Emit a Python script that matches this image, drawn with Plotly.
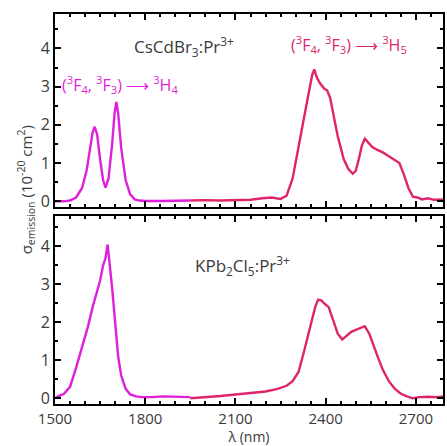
import plotly.graph_objects as go
from plotly.subplots import make_subplots

# Emission cross-section spectra, CsCdBr3:Pr3+ (top) and KPb2Cl5:Pr3+ (bottom)
cs_band1_wl = [1500, 1530, 1550, 1570, 1590, 1605, 1615, 1625, 1632, 1640, 1650, 1660, 1668,
               1678, 1690, 1698, 1704, 1710, 1720, 1735, 1750, 1765, 1780, 1800, 1850, 1900, 1950]
cs_band1_val = [0.0, 0.0, 0.02, 0.1, 0.35, 0.8, 1.3, 1.8, 1.95, 1.75, 1.1, 0.55, 0.36,
                0.6, 1.5, 2.3, 2.6, 2.3, 1.4, 0.55, 0.18, 0.05, 0.02, 0.01, 0.01, 0.01, 0.02]

cs_band2_wl = [1950, 2000, 2050, 2100, 2150, 2190, 2220, 2250, 2270, 2290, 2310, 2330, 2345,
               2355, 2362, 2370, 2380, 2395, 2405, 2415, 2425, 2440, 2460, 2475, 2490, 2500,
               2510, 2520, 2530, 2540, 2555, 2570, 2590, 2610, 2630, 2645, 2660, 2675, 2690,
               2705, 2720, 2740, 2760, 2790]
cs_band2_val = [0.02, 0.03, 0.02, 0.03, 0.04, 0.08, 0.1, 0.06, 0.15, 0.6, 1.4, 2.3, 2.9,
                3.3, 3.45, 3.25, 3.1, 2.95, 2.9, 2.7, 2.3, 1.7, 1.1, 0.85, 0.72, 0.8,
                1.1, 1.45, 1.64, 1.55, 1.42, 1.35, 1.28, 1.18, 1.08, 1.0, 0.7, 0.35, 0.12,
                0.1, 0.05, 0.08, 0.04, 0.05]

kp_band1_wl = [1500, 1510, 1530, 1550, 1570, 1590, 1610, 1625, 1640, 1650, 1660, 1668, 1675,
               1680, 1690, 1700, 1710, 1720, 1735, 1750, 1770, 1790, 1820, 1860, 1900, 1950]
kp_band1_val = [0.0, 0.05, 0.12, 0.3, 0.8, 1.35, 1.9, 2.4, 2.8, 3.1, 3.5, 3.7, 4.05,
                3.7, 2.9, 2.0, 1.1, 0.6, 0.25, 0.1, 0.05, 0.03, 0.03, 0.05, 0.04, 0.03]

kp_band2_wl = [1950, 2000, 2050, 2100, 2150, 2200, 2240, 2270, 2290, 2310, 2330, 2350, 2365,
               2375, 2385, 2395, 2410, 2425, 2440, 2455, 2470, 2485, 2500, 2515, 2530, 2545,
               2560, 2575, 2590, 2610, 2630, 2650, 2670, 2690, 2710, 2740, 2770, 2790]
kp_band2_val = [0.0, 0.02, 0.06, 0.1, 0.14, 0.18, 0.25, 0.33, 0.45, 0.7, 1.3, 1.95, 2.4,
                2.6, 2.58, 2.5, 2.4, 2.05, 1.7, 1.55, 1.65, 1.75, 1.8, 1.85, 1.9, 1.7,
                1.35, 1.05, 0.75, 0.45, 0.25, 0.12, 0.05, 0.0, 0.03, 0.04, 0.03, 0.05]

x_ticks = [1500, 1800, 2100, 2400, 2700]
y_ticks = [0, 1, 2, 3, 4]

MAGENTA = "#e01fd8"
CRIMSON = "#e0246c"
TEXT = "#3a3a3a"

fig = make_subplots(rows=2, cols=1, shared_xaxes=True, vertical_spacing=0.0)

for wl, val, color, row in [
    (cs_band1_wl, cs_band1_val, MAGENTA, 1),
    (cs_band2_wl, cs_band2_val, CRIMSON, 1),
    (kp_band1_wl, kp_band1_val, MAGENTA, 2),
    (kp_band2_wl, kp_band2_val, CRIMSON, 2),
]:
    fig.add_trace(go.Scatter(x=wl, y=val, mode="lines",
                             line=dict(color=color, width=2.4),
                             showlegend=False), row=row, col=1)

axis_common = dict(showline=True, linecolor="black", linewidth=2, mirror="allticks",
                   ticks="inside", ticklen=6, tickwidth=2, tickcolor="black",
                   showgrid=False, zeroline=False,
                   tickfont=dict(family="Open Sans", size=16, color=TEXT))

fig.update_xaxes(range=[1500, 2790], tickvals=x_ticks,
                 minor=dict(dtick=50, tick0=1500, ticks="inside", ticklen=3,
                            tickwidth=1.5, tickcolor="black"),
                 **axis_common)
fig.update_xaxes(showticklabels=False, row=1, col=1)
fig.update_xaxes(ticklabelstandoff=0, tickfont=dict(family="Open Sans", size=15, color=TEXT),
                 title=dict(text="λ (nm)", standoff=0,
                            font=dict(family="Open Sans", size=14, color=TEXT)),
                 automargin=False, row=2, col=1)
fig.update_yaxes(tickvals=y_ticks,
                 minor=dict(dtick=0.5, tick0=0, ticks="inside", ticklen=3,
                            tickwidth=1.5, tickcolor="black"),
                 **axis_common)
fig.update_yaxes(range=[-0.15, 4.9], row=1, col=1)
fig.update_yaxes(range=[-0.15, 4.8], row=2, col=1)

fig.update_layout(
    width=447, height=446,
    margin=dict(l=55, r=2, t=14, b=42),
    paper_bgcolor="white", plot_bgcolor="white",
    yaxis=dict(domain=[0.505, 1.0]),
    yaxis2=dict(domain=[0.0, 0.482]),
)

annotations = [
    dict(x=1930, y=4.05, xref="x", yref="y",
         text="CsCdBr<sub>3</sub>:Pr<sup>3+</sup>",
         font=dict(family="Open Sans", size=17, color=TEXT)),
    dict(x=2125, y=3.5, xref="x2", yref="y2",
         text="KPb<sub>2</sub>Cl<sub>5</sub>:Pr<sup>3+</sup>",
         font=dict(family="Open Sans", size=17, color=TEXT)),
    dict(x=1518, y=3.06, xref="x", yref="y", xanchor="left",
         text="(<sup>3</sup>F<sub>4</sub>, <sup>3</sup>F<sub>3</sub>) ⟶ <sup>3</sup>H<sub>4</sub>",
         font=dict(family="Open Sans", size=16, color=MAGENTA)),
    dict(x=2278, y=4.1, xref="x", yref="y", xanchor="left",
         text="(<sup>3</sup>F<sub>4</sub>, <sup>3</sup>F<sub>3</sub>) ⟶ <sup>3</sup>H<sub>5</sub>",
         font=dict(family="Open Sans", size=16, color=CRIMSON)),
    dict(x=-0.11, y=0.55, xref="paper", yref="paper", textangle=-90,
         text="σ<sub>emission</sub> (10<sup>-20</sup> cm<sup>2</sup>)",
         font=dict(family="Open Sans", size=15, color=TEXT)),
]
for a in annotations:
    a.setdefault("showarrow", False)
    fig.add_annotation(**a)

fig.write_html("out.html")
